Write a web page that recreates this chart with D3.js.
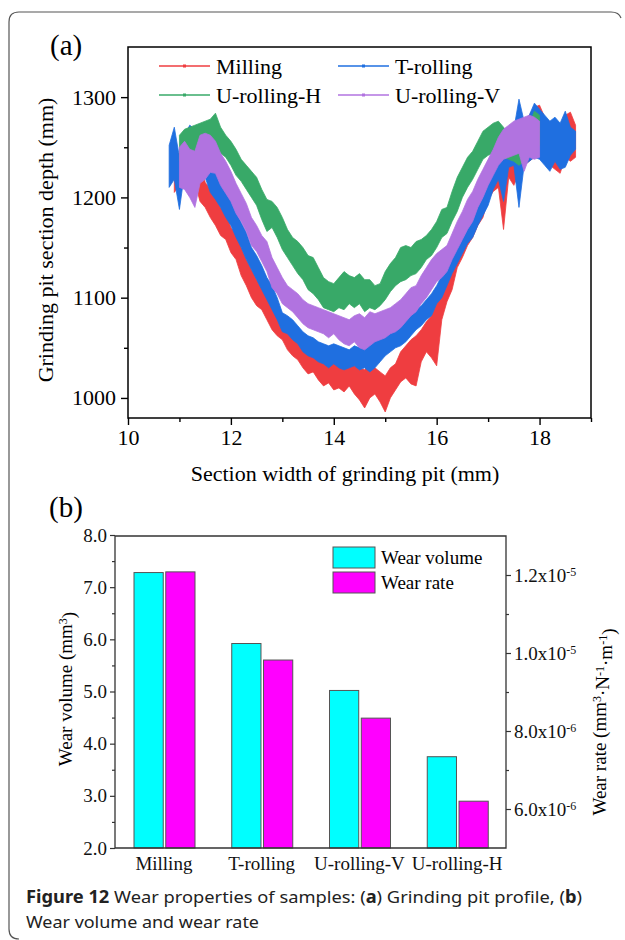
<!DOCTYPE html>
<html>
<head>
<meta charset="utf-8">
<script src="https://cdn.jsdelivr.net/npm/d3@7"></script>
<style>
body { margin: 0; background: #fff; }
svg { display: block; }
</style>
</head>
<body>
<svg id="chart" width="625" height="940"></svg>
<script>
// (a) grinding pit profiles: [width mm, lower edge, upper edge] of the noisy band
const millingProfile = [
  [10.9,1205,1238],[11.0,1212,1245],[11.1,1228,1258],[11.2,1222,1262],[11.3,1215,1250],[11.4,1196,1240],
  [11.5,1190,1215],[11.6,1180,1208],[11.7,1172,1200],[11.8,1162,1190],[11.9,1158,1185],[12.0,1145,1170],
  [12.1,1138,1163],[12.2,1122,1150],[12.3,1112,1138],[12.4,1100,1128],[12.5,1092,1118],[12.6,1088,1110],
  [12.7,1078,1100],[12.8,1068,1092],[12.9,1062,1086],[13.0,1058,1082],[13.1,1048,1070],[13.2,1042,1066],
  [13.3,1038,1060],[13.4,1030,1058],[13.5,1024,1050],[13.6,1026,1048],[13.7,1018,1044],[13.8,1012,1040],
  [13.9,1015,1038],[14.0,1008,1036],[14.1,1010,1040],[14.2,1006,1034],[14.3,1012,1038],[14.4,1004,1032],
  [14.5,998,1030],[14.6,990,1028],[14.7,1000,1034],[14.8,1004,1030],[14.9,996,1026],[15.0,986,1022],
  [15.1,1000,1030],[15.2,1008,1034],[15.3,1016,1046],[15.4,1020,1052],[15.5,1014,1058],[15.6,1012,1062],
  [15.7,1036,1068],[15.8,1046,1076],[15.9,1040,1082],[16.0,1032,1096],[16.1,1078,1108],[16.2,1096,1128],
  [16.3,1108,1140],[16.4,1130,1160],[16.5,1140,1168],[16.6,1152,1178],[16.7,1160,1186],[16.8,1172,1198],
  [16.9,1180,1206],[17.0,1198,1220],[17.1,1206,1232],[17.2,1210,1244],[17.3,1168,1252],[17.4,1220,1262],
  [17.5,1212,1258],[17.6,1224,1270],[17.7,1232,1276],[17.8,1236,1282],[17.9,1240,1290],[18.0,1250,1292],
  [18.1,1236,1280],[18.2,1232,1275],[18.3,1228,1268],[18.4,1224,1270],[18.5,1240,1282],[18.6,1236,1285],
  [18.7,1240,1272]
];
const tRollingProfile = [
  [10.8,1210,1252],[10.9,1218,1270],[11.0,1188,1240],[11.1,1225,1262],[11.2,1232,1272],[11.3,1228,1268],
  [11.4,1230,1266],[11.5,1220,1262],[11.6,1205,1245],[11.7,1198,1232],[11.8,1190,1222],[11.9,1180,1210],
  [12.0,1172,1200],[12.1,1160,1185],[12.2,1150,1175],[12.3,1138,1165],[12.4,1128,1150],[12.5,1118,1142],
  [12.6,1108,1132],[12.7,1098,1120],[12.8,1088,1112],[12.9,1078,1100],[13.0,1066,1085],[13.1,1064,1082],
  [13.2,1058,1078],[13.3,1054,1072],[13.4,1046,1066],[13.5,1042,1062],[13.6,1040,1060],[13.7,1036,1056],
  [13.8,1034,1054],[13.9,1030,1052],[14.0,1034,1054],[14.1,1030,1052],[14.2,1028,1050],[14.3,1030,1048],
  [14.4,1032,1052],[14.5,1028,1050],[14.6,1030,1052],[14.7,1026,1054],[14.8,1030,1058],[14.9,1036,1060],
  [15.0,1042,1068],[15.1,1046,1072],[15.2,1050,1074],[15.3,1052,1078],[15.4,1056,1080],[15.5,1062,1084],
  [15.6,1068,1088],[15.7,1072,1092],[15.8,1078,1098],[15.9,1082,1104],[16.0,1094,1112],[16.1,1100,1122],
  [16.2,1112,1132],[16.3,1124,1146],[16.4,1134,1158],[16.5,1144,1166],[16.6,1154,1174],[16.7,1160,1180],
  [16.8,1172,1192],[16.9,1182,1204],[17.0,1192,1214],[17.1,1208,1232],[17.2,1218,1246],[17.3,1196,1252],
  [17.4,1230,1262],[17.5,1232,1268],[17.6,1190,1298],[17.7,1232,1276],[17.8,1236,1282],[17.9,1240,1294],
  [18.0,1238,1288],[18.1,1232,1282],[18.2,1226,1276],[18.3,1236,1280],[18.4,1228,1274],[18.5,1230,1286],
  [18.6,1242,1270],[18.7,1248,1266]
];
const uRollingHProfile = [
  [11.0,1236,1262],[11.1,1240,1268],[11.2,1238,1270],[11.3,1240,1272],[11.4,1242,1274],[11.5,1246,1276],
  [11.6,1244,1278],[11.7,1250,1284],[11.8,1244,1270],[11.9,1240,1262],[12.0,1232,1256],[12.1,1222,1248],
  [12.2,1216,1238],[12.3,1208,1232],[12.4,1200,1226],[12.5,1192,1220],[12.6,1178,1208],[12.7,1166,1198],
  [12.8,1170,1196],[12.9,1160,1190],[13.0,1148,1180],[13.1,1140,1168],[13.2,1132,1160],[13.3,1124,1156],
  [13.4,1118,1150],[13.5,1108,1142],[13.6,1104,1140],[13.7,1098,1130],[13.8,1090,1120],[13.9,1088,1116],
  [14.0,1086,1114],[14.1,1090,1120],[14.2,1088,1126],[14.3,1094,1122],[14.4,1090,1120],[14.5,1094,1124],
  [14.6,1086,1118],[14.7,1090,1118],[14.8,1088,1112],[14.9,1092,1114],[15.0,1098,1126],[15.1,1106,1134],
  [15.2,1112,1140],[15.3,1116,1150],[15.4,1118,1152],[15.5,1122,1150],[15.6,1124,1156],[15.7,1130,1158],
  [15.8,1138,1162],[15.9,1142,1168],[16.0,1150,1176],[16.1,1160,1188],[16.2,1164,1190],[16.3,1176,1206],
  [16.4,1186,1220],[16.5,1200,1230],[16.6,1210,1240],[16.7,1218,1246],[16.8,1228,1256],[16.9,1238,1266],
  [17.0,1242,1270],[17.1,1244,1274],[17.2,1246,1276],[17.3,1240,1270],[17.4,1238,1264],[17.5,1236,1262],
  [17.6,1232,1258],[17.7,1236,1262],[17.8,1244,1272],[17.9,1250,1286],[18.0,1252,1282]
];
const uRollingVProfile = [
  [11.0,1210,1250],[11.1,1208,1256],[11.2,1200,1248],[11.3,1190,1246],[11.4,1214,1262],[11.5,1218,1264],
  [11.6,1225,1262],[11.7,1224,1256],[11.8,1212,1244],[11.9,1204,1236],[12.0,1196,1226],[12.1,1184,1214],
  [12.2,1176,1204],[12.3,1166,1194],[12.4,1152,1180],[12.5,1146,1172],[12.6,1136,1162],[12.7,1126,1156],
  [12.8,1110,1140],[12.9,1104,1130],[13.0,1094,1120],[13.1,1090,1112],[13.2,1086,1108],[13.3,1080,1104],
  [13.4,1074,1098],[13.5,1070,1094],[13.6,1068,1092],[13.7,1066,1090],[13.8,1064,1088],[13.9,1060,1086],
  [14.0,1064,1084],[14.1,1058,1082],[14.2,1054,1080],[14.3,1052,1078],[14.4,1056,1082],[14.5,1050,1084],
  [14.6,1048,1080],[14.7,1052,1086],[14.8,1056,1084],[14.9,1058,1086],[15.0,1060,1088],[15.1,1064,1090],
  [15.2,1066,1094],[15.3,1070,1098],[15.4,1076,1104],[15.5,1082,1110],[15.6,1086,1112],[15.7,1094,1122],
  [15.8,1100,1130],[15.9,1108,1138],[16.0,1116,1144],[16.1,1120,1148],[16.2,1126,1152],[16.3,1138,1164],
  [16.4,1148,1176],[16.5,1158,1186],[16.6,1168,1198],[16.7,1176,1206],[16.8,1190,1218],[16.9,1200,1228],
  [17.0,1212,1238],[17.1,1222,1248],[17.2,1232,1260],[17.3,1238,1268],[17.4,1240,1272],[17.5,1242,1276],
  [17.6,1244,1278],[17.7,1226,1280],[17.8,1240,1282],[17.9,1238,1280],[18.0,1240,1276]
];
const profileNames = ["Milling", "T-rolling", "U-rolling-H", "U-rolling-V"];
const profileTicksX = [10, 12, 14, 16, 18];
const profileTicksY = [1000, 1100, 1200, 1300];

// (b) wear volume and wear rate
const samples = ["Milling", "T-rolling", "U-rolling-V", "U-rolling-H"];
const wearVolume = [7.28, 5.92, 5.02, 3.75];
const wearRate = [1.208e-5, 9.82e-6, 8.33e-6, 6.2e-6];
const volumeTicks = [2, 3, 4, 5, 6, 7, 8];
const rateTicks = [6e-6, 8e-6, 1e-5, 1.2e-5];

const serif = "'Liberation Serif', 'Times New Roman', serif";
const svg = d3.select("#chart");

// outer rounded frame (left, top and bottom-left corner)
svg.append("path")
    .attr("d", "M19,939 Q9,939 9,929 L9,22 Q9,12 19,12 L611,12 Q619,12 621,18")
    .attr("fill", "none")
    .attr("stroke", "#555")
    .attr("stroke-width", 1.2);

// ---------- (a) ----------
const a = {left: 128, right: 591, top: 47, bottom: 418};
const xA = d3.scaleLinear().domain([10, 19]).range([a.left, a.right]);
const yA = d3.scaleLinear().domain([980, 1350]).range([a.bottom, a.top]);
const profileColors = ["#ef3d40", "#1f6fe0", "#38a968", "#b173e0"];
const profiles = [millingProfile, tRollingProfile, uRollingHProfile, uRollingVProfile];

const clip = svg.append("clipPath").attr("id", "clipA").append("rect")
    .attr("x", a.left).attr("y", a.top).attr("width", a.right - a.left).attr("height", a.bottom - a.top);

const band = d3.area()
    .x(d => xA(d[0]))
    .y0(d => yA(d[1]))
    .y1(d => yA(d[2]));

const gp = svg.append("g").attr("clip-path", "url(#clipA)");
profiles.forEach((p, i) => {
    gp.append("path")
        .attr("d", band(p))
        .attr("fill", profileColors[i])
        .attr("stroke", profileColors[i])
        .attr("stroke-width", 0.8);
});

svg.append("rect")
    .attr("x", a.left).attr("y", a.top)
    .attr("width", a.right - a.left).attr("height", a.bottom - a.top)
    .attr("fill", "none").attr("stroke", "#000").attr("stroke-width", 1.5);

function styleAxis(g, size) {
    g.select(".domain").remove();
    g.selectAll("line").attr("stroke", "#000").attr("stroke-width", 1.4);
    g.selectAll("text").attr("font-family", serif).attr("font-size", size).attr("fill", "#000");
}

svg.append("g")
    .attr("transform", `translate(0,${a.bottom})`)
    .call(d3.axisBottom(xA).tickValues(profileTicksX).tickSize(7).tickPadding(4).tickFormat(d3.format("d")))
    .call(g => styleAxis(g, 22));
svg.append("g")
    .attr("transform", `translate(0,${a.bottom})`)
    .call(d3.axisBottom(xA).tickValues([11, 13, 15, 17, 19]).tickSize(4).tickFormat(""))
    .call(g => styleAxis(g, 22));
svg.append("g")
    .attr("transform", `translate(${a.left},0)`)
    .call(d3.axisLeft(yA).tickValues(profileTicksY).tickSize(7).tickPadding(5).tickFormat(d3.format("d")))
    .call(g => styleAxis(g, 22));
svg.append("g")
    .attr("transform", `translate(${a.left},0)`)
    .call(d3.axisLeft(yA).tickValues([1050, 1150, 1250]).tickSize(4).tickFormat(""))
    .call(g => styleAxis(g, 22));

svg.append("text")
    .attr("x", 345).attr("y", 481)
    .attr("text-anchor", "middle")
    .attr("font-family", serif).attr("font-size", 22)
    .text("Section width of grinding pit (mm)");
svg.append("text")
    .attr("transform", "translate(53,240) rotate(-90)")
    .attr("text-anchor", "middle")
    .attr("font-family", serif).attr("font-size", 22)
    .text("Grinding pit section depth (mm)");
svg.append("text")
    .attr("x", 50).attr("y", 55)
    .attr("font-family", serif).attr("font-size", 29)
    .text("(a)");

const legA = svg.append("g").selectAll("g")
    .data(profileNames)
    .join("g")
    .attr("transform", (d, i) => `translate(${i % 2 ? 338 : 159},${i < 2 ? 66 : 95})`);
legA.append("line")
    .attr("x1", 0).attr("x2", 51)
    .attr("stroke", (d, i) => profileColors[i])
    .attr("stroke-opacity", 0.75)
    .attr("stroke-width", 1.8);
legA.append("rect")
    .attr("x", 24).attr("y", -1.5).attr("width", 3).attr("height", 3)
    .attr("fill", (d, i) => profileColors[i]);
legA.append("text")
    .attr("x", 57).attr("y", 8)
    .attr("font-family", serif).attr("font-size", 22)
    .text(d => d);

// ---------- (b) ----------
const b = {left: 115, right: 506, top: 536, bottom: 848};
const x0 = d3.scaleBand().domain(samples).range([b.left, b.right]);
const x1 = d3.scaleBand().domain([0, 1]).range([19, 80]).paddingInner(0.08);
const yVol = d3.scaleLinear().domain([2, 8]).range([b.bottom, b.top - 1]);
const yRate = d3.scaleLinear().domain([5e-6, 1.3e-5]).range([b.bottom, b.top]);

const groups = svg.append("g").selectAll("g")
    .data(samples)
    .join("g")
    .attr("transform", d => `translate(${x0(d)},0)`);
groups.append("rect")
    .attr("x", x1(0)).attr("width", x1.bandwidth())
    .attr("y", (d, i) => yVol(wearVolume[i]))
    .attr("height", (d, i) => b.bottom - yVol(wearVolume[i]))
    .attr("fill", "#00ffff").attr("stroke", "#555").attr("stroke-width", 1);
groups.append("rect")
    .attr("x", x1(1)).attr("width", x1.bandwidth())
    .attr("y", (d, i) => yRate(wearRate[i]))
    .attr("height", (d, i) => b.bottom - yRate(wearRate[i]))
    .attr("fill", "#ff00ff").attr("stroke", "#555").attr("stroke-width", 1);

// frame
svg.append("path")
    .attr("d", `M${b.left},${b.top}H${b.right}V${b.bottom}H${b.left}Z`)
    .attr("fill", "none").attr("stroke", "#333").attr("stroke-width", 1.3);

function styleAxisB(g) {
    g.select(".domain").remove();
    g.selectAll("line").attr("stroke", "#333").attr("stroke-width", 1.2);
    g.selectAll("text").attr("font-family", serif).attr("font-size", 19).attr("fill", "#111");
}

svg.append("g")
    .attr("transform", `translate(${b.left},0)`)
    .call(d3.axisLeft(yVol).tickValues(volumeTicks).tickSize(5).tickPadding(3).tickFormat(d3.format(".1f")))
    .call(styleAxisB);
svg.append("g")
    .attr("transform", `translate(${b.left},0)`)
    .call(d3.axisLeft(yVol).tickValues([2.5, 3.5, 4.5, 5.5, 6.5, 7.5]).tickSize(3).tickFormat(""))
    .call(styleAxisB);

const rightAx = svg.append("g")
    .attr("transform", `translate(${b.right},0)`)
    .call(d3.axisRight(yRate).tickValues(rateTicks).tickSize(5).tickPadding(3).tickFormat(""))
    .call(styleAxisB);
rightAx.selectAll(".tick text").each(function (d) {
    const e = Math.floor(Math.log10(d) + 1e-9);
    const m = d / Math.pow(10, e);
    const t = d3.select(this);
    t.append("tspan").text(m.toFixed(1) + "x10");
    t.append("tspan").attr("dy", "-0.45em").attr("font-size", 12).text(e);
});
svg.append("g")
    .attr("transform", `translate(${b.right},0)`)
    .call(d3.axisRight(yRate).tickValues([7e-6, 9e-6, 1.1e-5]).tickSize(3).tickFormat(""))
    .call(styleAxisB);

svg.append("g")
    .attr("transform", `translate(0,${b.bottom})`)
    .call(d3.axisBottom(x0).tickSize(0).tickPadding(9))
    .call(styleAxisB);

const yTitle = svg.append("text")
    .attr("transform", "translate(72,689) rotate(-90)")
    .attr("text-anchor", "middle")
    .attr("font-family", serif).attr("font-size", 19);
yTitle.append("tspan").text("Wear volume (mm");
yTitle.append("tspan").attr("dy", "-0.45em").attr("font-size", 12).text("3");
yTitle.append("tspan").attr("dy", "0.45em").text(")");

const rTitle = svg.append("text")
    .attr("transform", "translate(606,722) rotate(-90)")
    .attr("text-anchor", "middle")
    .attr("font-family", serif).attr("font-size", 19);
[["Wear rate (mm", 0], ["3", 1], ["·N", 0], ["-1", 1], ["·m", 0], ["-1", 1], [")", 0]].forEach(([s, sup], i, arr) => {
    const prevSup = i > 0 && arr[i - 1][1];
    rTitle.append("tspan")
        .attr("dy", sup ? "-0.45em" : (prevSup ? "0.45em" : 0))
        .attr("font-size", sup ? 12 : 19)
        .text(s);
});

svg.append("text")
    .attr("x", 49).attr("y", 517)
    .attr("font-family", serif).attr("font-size", 29)
    .text("(b)");

const legB = svg.append("g").selectAll("g")
    .data([["Wear volume", "#00ffff"], ["Wear rate", "#ff00ff"]])
    .join("g")
    .attr("transform", (d, i) => `translate(333,${547 + i * 25})`);
legB.append("rect")
    .attr("width", 42).attr("height", 21)
    .attr("fill", d => d[1]).attr("stroke", "#555").attr("stroke-width", 1);
legB.append("text")
    .attr("x", 48).attr("y", 17)
    .attr("font-family", serif).attr("font-size", 19)
    .text(d => d[0]);

// caption
const cap = svg.append("text")
    .attr("x", 26).attr("y", 903)
    .attr("font-family", "'Noto Sans', sans-serif").attr("font-size", 17).attr("fill", "#222")
    .attr("textLength", 556).attr("lengthAdjust", "spacingAndGlyphs");
cap.append("tspan").attr("font-weight", "bold").text("Figure 12");
cap.append("tspan").text("  Wear properties of samples: (");
cap.append("tspan").attr("font-weight", "bold").text("a");
cap.append("tspan").text(") Grinding pit profile, (");
cap.append("tspan").attr("font-weight", "bold").text("b");
cap.append("tspan").text(")");
svg.append("text")
    .attr("x", 26).attr("y", 928)
    .attr("font-family", "'Noto Sans', sans-serif").attr("font-size", 17).attr("fill", "#222")
    .attr("textLength", 233).attr("lengthAdjust", "spacingAndGlyphs")
    .text("Wear volume and wear rate");
</script>
</body>
</html>
